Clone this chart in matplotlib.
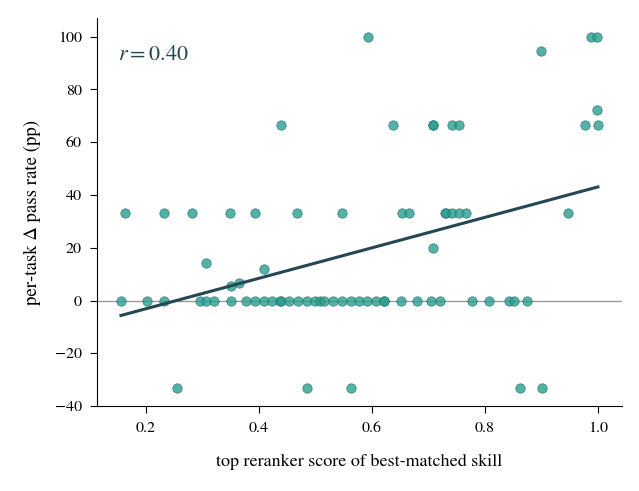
import numpy as np
import matplotlib
matplotlib.use("Agg")
import matplotlib.pyplot as plt

plt.rcParams["font.family"] = ["STIXGeneral", "DejaVu Serif"]
plt.rcParams["mathtext.fontset"] = "stix"

# per-task points: (reranker score, delta pass rate)
zero_x = [0.156, 0.202, 0.233, 0.295, 0.307, 0.320, 0.350, 0.378, 0.394, 0.409,
          0.423, 0.438, 0.440, 0.453, 0.469, 0.485, 0.500, 0.508, 0.515, 0.531,
          0.547, 0.563, 0.578, 0.592, 0.608, 0.621, 0.622, 0.652, 0.680, 0.705,
          0.720, 0.778, 0.808, 0.843, 0.852, 0.874]
third_x = [0.164, 0.233, 0.281, 0.349, 0.393, 0.468, 0.547, 0.653, 0.666,
           0.730, 0.731, 0.742, 0.754, 0.767, 0.947]
two_thirds_x = [0.439, 0.637, 0.708, 0.709, 0.742, 0.755, 0.978, 1.0]
full_x = [0.594, 0.988, 0.998]
neg_x = [0.256, 0.485, 0.563, 0.862, 0.901]
other_x = [0.307, 0.350, 0.364, 0.409, 0.708, 0.900, 0.998]
other_y = [14.3, 5.6, 6.7, 12.0, 20.0, 94.4, 72.2]

x = np.array(zero_x + third_x + two_thirds_x + full_x + neg_x + other_x)
y = np.array([0.0] * len(zero_x) + [33.3] * len(third_x) + [66.7] * len(two_thirds_x)
             + [100.0] * len(full_x) + [-33.3] * len(neg_x) + other_y)

fig = plt.figure(figsize=(6.39, 4.91), dpi=100)
ax = fig.add_axes([0.152, 0.173, 0.821, 0.79])

ax.axhline(0, color="#999999", lw=1, zorder=1)
ax.scatter(x, y, s=46, color="#2a9d8f", alpha=0.8, edgecolor="#1f6f65",
           linewidth=0.5, zorder=2)

k, b = np.polyfit(x, y, 1)
xs = np.array([x.min(), x.max()])
ax.plot(xs, k * xs + b, color="#264653", lw=2.2, zorder=3)

ax.text(0.04, 0.93, "$r = 0.40$", transform=ax.transAxes, fontsize=16,
        color="#264653", va="top")

ax.set_ylim(-40, 107)
ax.set_xlabel("top reranker score of best-matched skill", fontsize=13, labelpad=14)
ax.set_ylabel("per-task \u0394 pass rate (pp)", fontsize=13.5, labelpad=10)
ax.tick_params(labelsize=11.5, direction="out", length=5, pad=6)
ax.set_xticks([0.2, 0.4, 0.6, 0.8, 1.0])
ax.spines["top"].set_visible(False)
ax.spines["right"].set_visible(False)

fig.savefig("out.png", dpi=100)
